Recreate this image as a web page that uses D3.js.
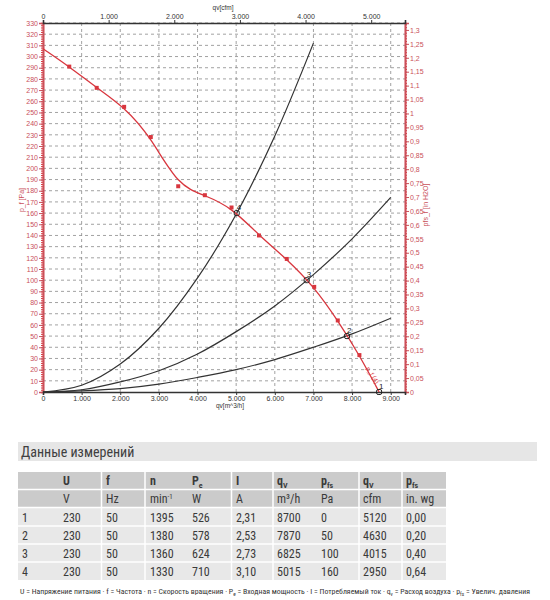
<!DOCTYPE html>
<html>
<head>
<meta charset="utf-8">
<script src="https://cdn.jsdelivr.net/npm/d3@7"></script>
<style>
  body { margin: 0; background: #fff; }
  svg { display: block; }
</style>
</head>
<body>
<svg id="grafico"></svg>
<script>
// fan curve p_f over q_v
const curveFlow = [0, 680, 1390, 2100, 2790, 3500, 4190, 4880, 5590, 6310, 7020, 7630, 8190, 8700];
const curvePa = [307, 291, 272, 255, 228, 184, 176, 165, 140, 119, 94, 64, 33, 0];

// system curves through operating points 4, 3, 2
const sysFlow = [0, 1000, 2000, 3000, 4000, 5000, 6000, 7000, 8000, 9000];
const sys4 = [0, 6, 25, 57, 102, 159, 229, 312];
const sys3 = [0, 2, 9, 19, 34, 54, 77, 105, 137, 174];
const sys2 = [0, 1, 3, 7, 13, 20, 29, 40, 52, 66];

// operating points
const opLabels = ['1', '2', '3', '4'];
const opFlow = [8700, 7870, 6825, 5015];
const opPa = [0, 50, 100, 160];

// table
const tabHead = ['', 'U', 'f', 'n', 'P|e', 'I', 'q|V', 'p|fs', 'q|V', 'p|fs'];
const tabUnits = ['', 'V', 'Hz', 'min^-1', 'W', 'A', 'm³/h', 'Pa', 'cfm', 'in. wg'];
const tabRows = [
  ['1', '230', '50', '1395', '526', '2,31', '8700', '0', '5120', '0,00'],
  ['2', '230', '50', '1380', '578', '2,53', '7870', '50', '4630', '0,20'],
  ['3', '230', '50', '1360', '624', '2,73', '6825', '100', '4015', '0,40'],
  ['4', '230', '50', '1330', '710', '3,10', '5015', '160', '2950', '0,64']
];

const vermelho = '#d8363e';
const rotuloVermelho = '#c9505a';
const fonte = 'Liberation Sans, Arial, sans-serif';
const fonteEstreita = '"Liberation Sans Narrow", "Arial Narrow", "Roboto Condensed", "Liberation Sans", sans-serif';

const local = d3.formatLocale({decimal: ',', thousands: '.', grouping: [3], currency: ['', '']});
const fmtMil = local.format(',');
const fmtDec = local.format('.2~f');

let svg = d3.select('#grafico').attr('width', 550).attr('height', 600);
svg.append('rect').attr('width', 550).attr('height', 600).attr('fill', '#fff');

let area = {esquerda: 43, superior: 23, direita: 405, inferior: 392};
let maxFlow = 9370;

let fnX = d3.scaleLinear().domain([0, maxFlow]).range([area.esquerda, area.direita]);
let fnY = d3.scaleLinear().domain([0, 330]).range([area.inferior, area.superior]);
let fnYin = d3.scaleLinear().domain([0, 330 / 249.09]).range([area.inferior, area.superior]);
let fnXcfm = d3.scaleLinear().domain([0, maxFlow / 1.699]).range([area.esquerda, area.direita]);

// grid
let grade = svg.append('g').attr('stroke', '#8a8a8a').attr('stroke-width', 0.8).attr('stroke-dasharray', '3,3');
grade.selectAll('.gh').data(d3.range(10, 331, 10)).enter().append('line')
  .attr('x1', area.esquerda).attr('x2', area.direita)
  .attr('y1', d => fnY(d)).attr('y2', d => fnY(d));
grade.selectAll('.gv').data(d3.range(1000, 9001, 1000)).enter().append('line')
  .attr('y1', area.superior).attr('y2', area.inferior)
  .attr('x1', d => fnX(d)).attr('x2', d => fnX(d));

function estilo(g, cor, largura) {
  g.select('.domain').attr('stroke', cor).attr('stroke-width', largura);
  g.selectAll('.tick line').attr('stroke', cor);
  g.selectAll('.tick text').attr('fill', cor).style('font-family', fonte).style('font-size', '7px');
}

// left axis (Pa)
svg.append('g').attr('transform', 'translate(' + area.esquerda + ',0)')
  .call(d3.axisLeft(fnY).tickValues(d3.range(0, 331, 2)).tickSize(2).tickFormat(''))
  .call(g => estilo(g, vermelho, 1.6));
svg.append('g').attr('transform', 'translate(' + area.esquerda + ',0)')
  .call(d3.axisLeft(fnY).tickValues(d3.range(0, 331, 10)).tickSize(4).tickPadding(1).tickFormat(d3.format('d')))
  .call(g => estilo(g, rotuloVermelho, 1.6));

// right axis (in H2O)
svg.append('g').attr('transform', 'translate(' + area.direita + ',0)')
  .call(d3.axisRight(fnYin).tickValues(d3.range(0, 133).map(i => i / 100)).tickSize(2).tickFormat(''))
  .call(g => estilo(g, vermelho, 1.6));
svg.append('g').attr('transform', 'translate(' + area.direita + ',0)')
  .call(d3.axisRight(fnYin).tickValues(d3.range(0, 27).map(i => i * 5 / 100)).tickSize(4).tickPadding(1).tickFormat(fmtDec))
  .call(g => estilo(g, rotuloVermelho, 1.6));

// bottom axis (m3/h)
svg.append('g').attr('transform', 'translate(0,' + area.inferior + ')')
  .call(d3.axisBottom(fnX).tickValues(d3.range(0, 9001, 1000)).tickSize(3).tickPadding(1).tickFormat(fmtMil))
  .call(g => estilo(g, '#333', 1.6));

// top axis (cfm)
svg.append('g').attr('transform', 'translate(0,' + area.superior + ')')
  .call(d3.axisTop(fnXcfm).tickValues(d3.range(0, 5001, 1000)).tickSize(3).tickPadding(1).tickFormat(fmtMil))
  .call(g => estilo(g, '#333', 1.6));

// axis titles
svg.append('text').attr('x', 223).attr('y', 10).attr('text-anchor', 'middle')
  .style('font-family', fonte).style('font-size', '6.5px').attr('fill', '#333').text('qv[cfm]');
svg.append('text').attr('x', 230).attr('y', 408).attr('text-anchor', 'middle')
  .style('font-family', fonte).style('font-size', '6.5px').attr('fill', '#333').text('qv[m^3/h]');
svg.append('text').attr('transform', 'translate(24,' + 200 + ') rotate(-90)').attr('text-anchor', 'middle')
  .style('font-family', fonte).style('font-size', '7px').attr('fill', rotuloVermelho).text('p_f [Pa]');
svg.append('text').attr('transform', 'translate(428,' + 205 + ') rotate(-90)').attr('text-anchor', 'middle')
  .style('font-family', fonte).style('font-size', '7px').attr('fill', rotuloVermelho).text('pfs_f [in H2O]');

// system curves
let linha = d3.line().x(d => fnX(d[0])).y(d => fnY(d[1])).curve(d3.curveCatmullRom);
[sys4, sys3, sys2].forEach(serie => {
  svg.append('path')
    .datum(serie.map((v, i) => [sysFlow[i], v]))
    .attr('d', linha)
    .attr('fill', 'none').attr('stroke', '#333').attr('stroke-width', 1.2);
});

// fan curve (smoothed fit through the measured points)
let pontos = curveFlow.map((q, i) => [q, curvePa[i]]);
let linhaSuave = d3.line().x(d => fnX(d[0])).y(d => fnY(d[1])).curve(d3.curveBasis);
svg.append('path').datum(pontos).attr('d', linhaSuave)
  .attr('fill', 'none').attr('stroke', vermelho).attr('stroke-width', 1.3);
svg.selectAll('.ponto').data(pontos.slice(1, -1)).enter().append('rect').classed('ponto', true)
  .attr('x', d => fnX(d[0]) - 2).attr('y', d => fnY(d[1]) - 2)
  .attr('width', 4).attr('height', 4).attr('fill', vermelho);

svg.append('text')
  .attr('transform', 'translate(' + (fnX(8250) + 4) + ',' + (fnY(22) + 1) + ') rotate(58)')
  .style('font-family', fonte).style('font-size', '6.5px').attr('fill', vermelho).text('p_f (4)');

// operating points
let op = opLabels.map((l, i) => ({rotulo: l, q: opFlow[i], p: opPa[i]}));
svg.selectAll('.op').data(op).enter().append('rect').classed('op', true)
  .attr('x', d => fnX(d.q) - 2.5).attr('y', d => fnY(d.p) - 2.5)
  .attr('width', 5).attr('height', 5).attr('rx', 1.5)
  .attr('fill', 'none').attr('stroke', '#222').attr('stroke-width', 1);
svg.selectAll('.oprot').data(op).enter().append('text').classed('oprot', true)
  .attr('x', d => fnX(d.q)).attr('y', d => fnY(d.p) - 3)
  .style('font-family', fonte).style('font-size', '8px').attr('fill', '#222').text(d => d.rotulo);

// ---- table ----
let tab = {x0: 18, x1: 446};
let colX = [22, 63, 106, 150, 192, 236, 277, 321, 363, 406];
let separadores = [101.5, 145, 231.5, 273, 359, 402];
let linhasY = [472, 489.5, 507.5, 526, 544, 562, 580];

svg.append('rect').attr('x', 18).attr('y', 442).attr('width', 519).attr('height', 19).attr('fill', '#e6e6e6');
svg.append('text').attr('x', 21).attr('y', 457)
  .style('font-family', fonteEstreita).style('font-size', '14px').attr('fill', '#404040').text('Данные измерений');

linhasY.slice(0, -1).forEach((yy, i) => {
  svg.append('rect').attr('x', tab.x0).attr('y', yy).attr('width', tab.x1 - tab.x0)
    .attr('height', linhasY[i + 1] - yy).attr('fill', i < 2 ? '#cbcbcb' : '#e8e8e8');
});
svg.selectAll('.sep').data(separadores).enter().append('line')
  .attr('x1', d => d).attr('x2', d => d).attr('y1', linhasY[0]).attr('y2', linhasY[6])
  .attr('stroke', '#fff').attr('stroke-width', 1.5);
svg.selectAll('.seph').data(linhasY.slice(1, -1)).enter().append('line')
  .attr('x1', tab.x0).attr('x2', tab.x1).attr('y1', d => d).attr('y2', d => d)
  .attr('stroke', '#fff').attr('stroke-width', 1.5);

function celula(txt, cx, cy, negrito) {
  let t = svg.append('text').attr('x', cx).attr('y', cy)
    .style('font-family', fonteEstreita).style('font-size', '12px')
    .style('font-weight', negrito ? 'bold' : 'normal').attr('fill', '#3a3a3a');
  if (txt.includes('|')) {
    let partes = txt.split('|');
    t.append('tspan').text(partes[0]);
    t.append('tspan').attr('dy', 3).style('font-size', '8px').text(partes[1]);
  } else if (txt.includes('^')) {
    let partes = txt.split('^');
    t.append('tspan').text(partes[0]);
    t.append('tspan').attr('dy', -4).style('font-size', '7px').text(partes[1]);
  } else {
    t.text(txt);
  }
}

tabHead.forEach((h, i) => celula(h, colX[i], 485, true));
tabUnits.forEach((h, i) => celula(h, colX[i], 503, false));
tabRows.forEach((r, j) => r.forEach((v, i) => celula(v, colX[i], linhasY[j + 2] + 14, false)));

// footnote
let nota = svg.append('text').attr('x', 20).attr('y', 594)
  .attr('textLength', 510).attr('lengthAdjust', 'spacingAndGlyphs')
  .style('font-family', fonteEstreita).style('font-size', '7.4px').attr('fill', '#333');
[['U = Напряжение питания · f = Частота · n = Скорость вращения · P', 0],
 ['e', 1],
 [' = Входная мощность · I = Потребляемый ток · q', 0],
 ['v', 1],
 [' = Расход воздуха · p', 0],
 ['fs', 1],
 [' = Увелич. давления', 0]].forEach((p, i, arr) => {
  let dy = p[1] ? 2 : (i > 0 && arr[i - 1][1] ? -2 : 0);
  nota.append('tspan').attr('dy', dy).style('font-size', p[1] ? '5px' : '7.4px').text(p[0]);
});
</script>
</body>
</html>
